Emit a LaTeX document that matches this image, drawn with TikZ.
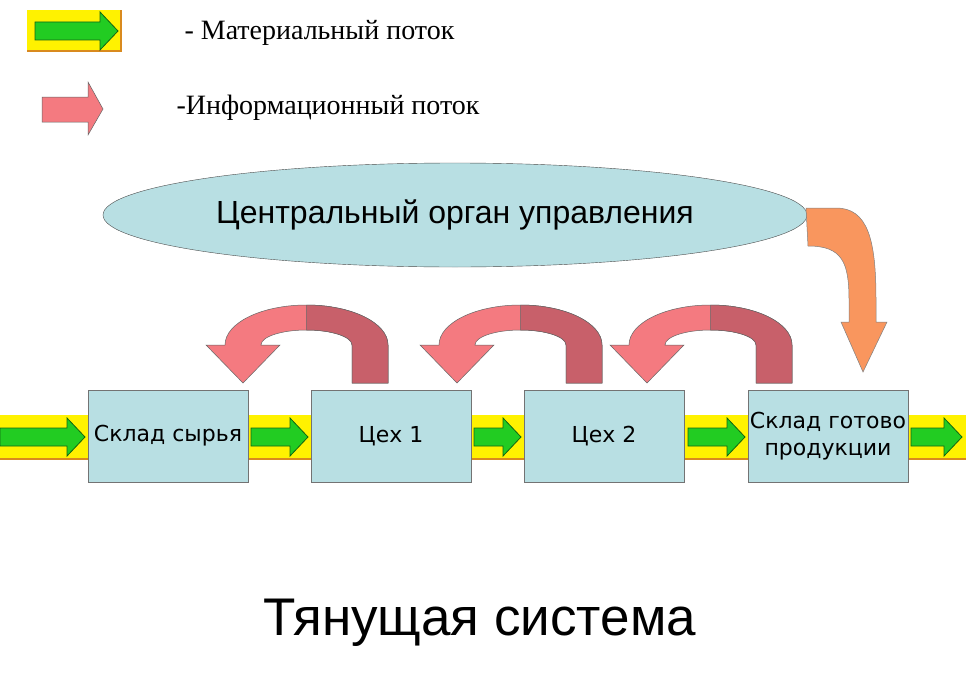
\documentclass[tikz,border=0pt]{standalone}
\usepackage{fontspec}
\usetikzlibrary{shapes.geometric}
\setmainfont{Liberation Serif}
\setsansfont{Liberation Sans}
\newfontfamily\boxfont{DejaVu Sans}
\definecolor{boxblue}{HTML}{B8DFE3}
\definecolor{gfill}{HTML}{22CC22}
\definecolor{gdark}{HTML}{116611}
\definecolor{pinkL}{HTML}{F47A80}
\definecolor{pinkD}{HTML}{C8606A}
\definecolor{orng}{HTML}{F9965E}
\definecolor{bandor}{HTML}{D98A1E}
\newcommand{\grarrow}[3]{% x1 x2 ycenter
  \fill[gfill,draw=gdark,line width=0.8pt] (#1,#3-9) -- (#2-18,#3-9) -- (#2-18,#3-19) -- (#2,#3) -- (#2-18,#3+19) -- (#2-18,#3+9) -- (#1,#3+9) -- cycle;}
\newcommand{\infoarrow}[1]{% tip x
  \begin{scope}[shift={(#1,0)}]
  \fill[pinkL,draw=black!60,line width=0.5pt] (145,383) -- (145,345) arc[start angle=0,end angle=-180,x radius=81.5,y radius=40]
    -- (-37,345) -- (0,383) -- (37,345) -- (18,345) arc[start angle=180,end angle=360,x radius=45.5,y radius=15] -- (109,383) -- cycle;
  \fill[pinkD,draw=black!60,line width=0.5pt] (145,383) -- (145,345) arc[start angle=0,end angle=-90,x radius=81.5,y radius=40]
    -- (63.5,330) arc[start angle=270,end angle=360,x radius=45.5,y radius=15] -- (109,383) -- cycle;
  \end{scope}}
\begin{document}
\begin{tikzpicture}[x=1pt,y=-1pt,
  box/.style={draw=black!55,fill=boxblue,minimum width=160pt,minimum height=92pt,inner sep=0pt,font=\boxfont\fontsize{22}{27}\selectfont,align=center}]
\useasboundingbox (0,0) rectangle (966,685);
\fill[white] (0,0) rectangle (966,685);
% legend
\fill[yellow] (27,10) rectangle (121,51);
\draw[bandor,line width=2pt] (27,51) -- (121,51) -- (121,10);
\grarrow{35}{118}{31}
\fill[pinkL,draw=black!60,line width=0.5pt] (42,97) -- (88,97) -- (88,82) -- (103,109) -- (88,135) -- (88,122) -- (42,122) -- cycle;
\node[anchor=west,font=\fontsize{28}{33}\selectfont] (l1) at (181,33) {- Материальный поток};
\node[anchor=west,font=\fontsize{28}{33}\selectfont] (l2) at (173,108) {-Информационный поток};
% ellipse
\node[ellipse,draw=black!70,fill=boxblue,minimum width=704pt,minimum height=104pt,inner sep=0pt,font=\sffamily\fontsize{32}{38}\selectfont] (cu) at (455,215) {Центральный орган управления};
% orange arrow
\fill[orng,draw=black!50,line width=0.5pt] (806,208) -- (836,208) .. controls (868,208) and (876,240) .. (876,300) -- (876,322) -- (887,322) -- (863,372) -- (841,322) -- (849,322) -- (849,300) .. controls (849,262) and (842,246) .. (808,246) -- cycle;
% band
\fill[yellow] (0,415) rectangle (966,458);
\draw[bandor,line width=2pt] (0,459) -- (966,459);
\grarrow{0}{85}{437}
\grarrow{251}{308}{437}
\grarrow{474}{521}{437}
\grarrow{688}{745}{437}
\grarrow{911}{962}{437}
% boxes
\node[box] (b1) at (168,436) {Склад сырья};
\node[box] (b2) at (391,436) {Цех 1};
\node[box] (b3) at (604,436) {Цех 2};
\node[box] (b4) at (828,436) {Склад готово\\продукции};
% info arrows
\infoarrow{243}
\infoarrow{457}
\infoarrow{647}
% title
\node[font=\sffamily\fontsize{53}{62}\selectfont] (t) at (480,623) {Тянущая система};
\end{tikzpicture}
\end{document}
